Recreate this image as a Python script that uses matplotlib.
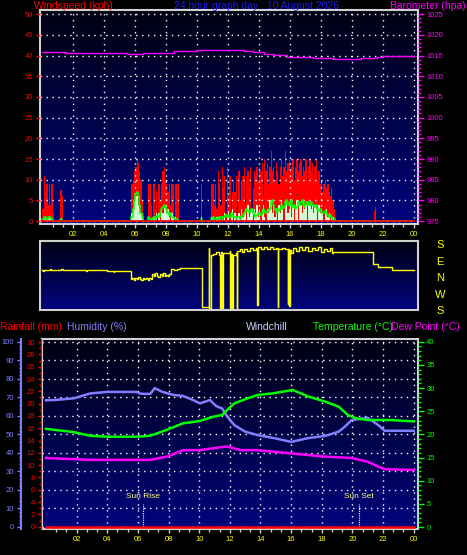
import numpy as np
import matplotlib.pyplot as plt
from matplotlib.colors import LinearSegmentedColormap

plt.rcParams['font.family'] = ['Liberation Sans', 'DejaVu Sans']

# ---- data ----
hour_ticks = [2, 4, 6, 8, 10, 12, 14, 16, 18, 20, 22, 24]
hour_labels = ["02", "04", "06", "08", "10", "12", "14", "16", "18", "20", "22", "00"]

# wind, 5 minute samples (kph)
gust = ([3, 11, 7, 9, 4, 9, 4, 9, 2] + [0] * 5 + [7.5, 6] + [0] * 53
        + [9, 10, 12, 13, 15, 14, 12, 10, 5, 2, 0] + [0] * 2
        + [9, 9, 4, 0, 9, 3, 7.5, 0, 9, 5, 9, 12, 13, 10, 9, 7, 9, 4, 9, 9, 0, 9, 9, 9]
        + [0] * 17 + [9] + [0] * 7 + [9, 9, 4]
        + [9, 3, 12, 9,
           4, 13, 8, 11, 2, 13,
           6, 11, 3, 7, 10, 7, 11, 2, 12, 5, 10, 11,
           13, 4, 11, 12, 9, 13, 3, 8, 12, 11, 13, 10,
           13, 12, 14, 6, 15, 12, 14, 9, 13, 17, 12, 13,
           10, 14, 12, 9, 13, 15, 11, 13, 17, 12, 14, 15,
           12, 13, 15, 10, 13, 15, 12, 14, 15, 11, 13, 12,
           15, 10, 13, 15, 12, 14, 11, 13, 15, 10, 12, 9,
           10, 7, 9, 10, 8, 9, 7, 6, 8, 5, 3, 1]
        + [0] * 29 + [2.5, 3.5] + [0] * 29)

speed = ([0, 1, 1, 0.5, 1, 1, 0.5, 0.5, 0] + [0] * 5 + [0.5, 0] + [0] * 53
         + [2, 3, 5, 6, 6, 4, 3, 2, 1, 0, 0] + [0] * 2
         + [1, 0, 0, 0, 1, 0, 2, 0, 2, 0, 3, 2, 4, 3, 2, 3, 1, 0, 2, 1, 0, 1, 0, 0]
         + [0] * 17 + [1] + [0] * 7 + [1, 0, 0]
         + [0, 1, 0, 1,
            0, 1, 0, 2, 0, 1,
            2, 0, 1, 3, 0, 2, 0, 1, 2, 0, 3, 1,
            2, 3, 0, 4, 1, 2, 3, 0, 3, 2, 4, 1,
            3, 0, 3, 4, 1, 0, 3, 2, 5, 5, 2, 4,
            1, 3, 0, 4, 2, 5, 3, 0, 4, 5, 2, 3,
            5, 1, 4, 0, 3, 5, 0, 4, 4, 2, 5, 3,
            4, 0, 4, 4, 3, 4, 2, 4, 3, 0, 4, 2,
            3, 2, 0, 2, 3, 1, 2, 0, 1, 1, 0, 0]
         + [0] * 29 + [0, 0] + [0] * 29)

avg = ([0.5, 1, 1, 0.5, 1, 1, 1, 0.5, 0] + [0] * 5 + [0.5, 0] + [0] * 53
       + [1, 3, 5, 6.5, 7, 6, 4, 2, 1, 0, 0] + [0] * 2
       + [1, 0.5, 0, 0.5, 1, 0.5, 1, 1.5, 1, 2, 3, 3.5, 4, 3.5, 3, 2, 1.5, 2, 1, 1, 0.5, 0.5, 0.5, 0]
       + [0] * 17 + [0.5] + [0] * 7 + [0.5, 1, 0.5]
       + [0.5, 0.5, 1, 0.5,
          1, 0.5, 1, 1, 1.5, 1,
          1.5, 1, 2, 1.5, 1, 1, 0.5, 1, 1, 0.5, 1, 1.5,
          2, 2.5, 3, 2.5, 2, 2.5, 3, 2, 1.5, 1, 1.5, 2,
          2, 1.5, 2, 3, 2.5, 2, 2.5, 2.5, 3, 4.5, 5, 4,
          3, 2, 3, 2.5, 3, 4, 3, 3.5, 4.5, 5, 4, 4.5,
          4, 5, 3.5, 4, 3, 3.5, 4.5, 4, 4.5, 5, 4, 3.5,
          4.5, 4, 4.5, 4, 4.5, 4, 4, 3.5, 4, 3, 2.5, 3,
          2.5, 2, 2, 2.5, 2, 1.5, 1, 1.5, 1, 0.5, 0.5, 0]
       + [0] * 29 + [0, 0] + [0] * 29)

# barometer (hpa)
pres_hours = [0, 1.5, 4.5, 5.5, 6.5, 8.0, 8.5, 10.0, 11.0, 12.3, 13.0, 13.6, 14.3,
              15.0, 15.8, 17.5, 18.8, 20.1, 20.6, 21.6, 22.0, 24]
pres = [1015.8, 1015.6, 1015.5, 1015.4, 1015.6, 1015.6, 1016.0, 1016.3, 1016.4,
        1016.3, 1016.0, 1015.8, 1015.3, 1015.1, 1014.7, 1014.5, 1014.1, 1014.1,
        1014.4, 1014.7, 1014.9, 1014.9]

# wind direction (deg, west negative)
dir_hours = [0.0, 0.05, 0.1, 0.5, 0.55, 1.2, 1.3, 2.8, 2.9, 4.2, 4.6, 4.65,
             5.7, 5.8, 5.9, 6.0, 6.1, 6.2, 6.3, 6.4, 6.5, 6.6, 6.7, 6.8, 6.9, 7.0,
             7.1, 7.2, 7.3, 7.4, 7.5, 7.6, 7.7, 7.8, 7.9, 8.0, 8.1, 8.2, 8.3, 8.5, 8.7, 8.9,
             10.3, 10.75, 10.8, 10.9, 11.0, 11.2, 11.4, 11.5, 11.55, 11.6, 11.65, 12.1,
             12.15, 12.2, 12.25, 12.3, 12.5, 12.55, 12.6, 12.8, 12.9, 13.0, 13.2, 13.4,
             13.6, 13.8, 13.9, 13.95, 14.1, 14.3, 14.5, 14.7, 14.9, 15.1, 15.2, 15.25,
             15.5, 15.7, 15.85, 15.9, 15.95, 16.0, 16.1, 16.2, 16.4, 16.6, 16.8, 17.0,
             17.2, 17.4, 17.6, 17.8, 18.0, 18.2, 18.4, 18.6, 18.7, 18.8, 21.4, 21.7,
             22.6, 24.0]
dir_deg = [45, 37, 45, 50, 45, 50, 45, 40, 45, 42, 35, 42,
           -5, 3, -8, 2, -6, 5, -3, -9, 0, -5, 4, -7, 2, -4,
           25, 12, 30, 15, 8, 22, 12, 28, 10, 20, 14, 26, 48, 45, 52, 54,
           -155, 163, -160, 127, 130, 145, 127, -160, 145, -165, 140, 150,
           -160, 130, -165, 127, 135, -160, 150, 160, 145, 158, 150, 163,
           155, 165, -145, 168, 160, 170, 158, 168, 160, 165, -155, 162,
           165, 158, -140, 160, -150, 155, 140, 165, 150, 168, 155, 170,
           148, 165, 152, 170, 145, 162, 150, 165, 136, 142, 76, 63,
           45, 45]
dir_names = ["S", "E", "N", "W", "S"]
dir_pos = [180, 90, 0, -90, -180]

# humidity (%), temperature and dew point (C), rainfall (mm)
hum_hours = [0, 0.5, 1.8, 2.9, 4.0, 5.9, 6.2, 6.8, 7.1, 7.6, 8.3, 8.95, 9.6, 10.05,
             10.7, 11.1, 11.5, 11.8, 12.3, 13.0, 13.8, 14.9, 16.0, 17.1, 18.2, 19.1,
             19.5, 19.95, 21.0, 21.7, 22.1, 24.0]
humidity = [68.5, 68.6, 69.5, 72.2, 73, 73, 72, 71.9, 75, 73, 71.4, 70.8, 68.6, 66.8,
            68.6, 65.4, 64, 60, 55, 51.5, 49.7, 48, 46, 48, 49.2, 51.5,
            54.2, 57.8, 59, 55, 52, 52]
temp_hours = [0, 1.8, 2.9, 4.0, 5.9, 6.8, 7.9, 8.95, 10.05, 10.9, 11.5, 11.9, 12.3,
              13.0, 13.8, 14.9, 16.1, 17.1, 18.2, 19.1, 19.7, 20.2, 21.0, 22.5, 24.0]
temperature = [21.2, 20.5, 19.7, 19.5, 19.5, 19.7, 21.0, 22.4, 22.9, 23.8, 24.2, 25.5,
               26.7, 27.6, 28.5, 28.9, 29.6, 28.2, 27.1, 26.0, 24.2, 23.5, 23.1, 23.1, 22.8]
dew_hours = [0, 2.9, 6.8, 7.9, 8.95, 10.05, 10.9, 11.8, 12.7, 13.8, 16.0, 18.2, 19.95,
             21.0, 21.7, 22.1, 24.0]
dew_point = [14.9, 14.5, 14.5, 15.2, 16.6, 16.6, 17.0, 17.4, 16.6, 16.6, 15.9, 15.2,
             14.9, 14.1, 13.0, 12.5, 12.3]
rain_hours = [0, 24]
rainfall = [0, 0]
sun_rise = 6.35
sun_set = 20.45

# ---- styling helpers ----
W, H = 467, 555
frame_col = '#d0d0d0'
grid_style = dict(color='white', linestyle=(0, (1, 3.3)), linewidth=1)
bg = LinearSegmentedColormap.from_list('bg', ['#00047c', '#000012'])
tick_fs = 5.5
head_fs = 7.5
line_w = 1.8


def px_axes(left, top, right, bottom):
    return fig.add_axes([left / W, 1 - bottom / H, (right - left) / W, (bottom - top) / H])


def gradient(ax):
    ax.imshow(np.linspace(0, 1, 256).reshape(-1, 1), cmap=bg, aspect='auto',
              extent=[0, 1, 0, 1], transform=ax.transAxes, zorder=0, origin='lower')
    ax.set_facecolor('black')
    for s in ax.spines.values():
        s.set_color(frame_col)
        s.set_linewidth(1.5)


def time_axis(ax, xmin, xmax):
    ax.set_xlim(xmin, xmax)
    ax.set_xticks(hour_ticks)
    ax.set_xticklabels(hour_labels)
    ax.set_xticks(np.arange(2 / 3, 24.01, 2 / 3), minor=True)
    ax.tick_params(axis='x', which='both', colors=frame_col, labelcolor='yellow',
                   labelsize=tick_fs, length=3, width=1, pad=2)
    ax.tick_params(axis='x', which='minor', length=2)


fig = plt.figure(figsize=(W / 100, H / 100), dpi=100, facecolor='black')

# ---- wind / barometer panel ----
axw = px_axes(40, 10, 418, 224)
gradient(axw)
wind_hours = np.arange(len(gust)) / 12
axw.bar(wind_hours, gust, width=1 / 12, align='edge', color='red', zorder=2)
axw.bar(wind_hours, speed, width=1 / 12, align='edge', color='#d4f7d4', zorder=3)
axw.step(wind_hours, avg, where='post', color='#00ff00', lw=1.1, zorder=4)
axw.plot([0, 24], [0, 0], color='red', lw=1.2, zorder=4)
axw.set_ylim(-0.7, 51)
axw.set_yticks(range(0, 51, 5))
axw.tick_params(axis='y', colors='red', labelsize=tick_fs, length=3, width=1, pad=2)
time_axis(axw, -0.155, 24.28)
axw.grid(True, **grid_style)
axw.set_axisbelow(False)
for gl in axw.get_xgridlines() + axw.get_ygridlines():
    gl.set_zorder(1.5)

axp = axw.twinx()
axp.step(pres_hours, pres, where='post', color='magenta', lw=1)
axp.set_ylim(975 - 0.7, 1026)
axp.set_yticks(range(975, 1026, 5))
axp.set_yticks(range(975, 1026, 1), minor=True)
axp.tick_params(axis='y', which='both', colors='magenta', labelsize=tick_fs,
                length=4, width=1, pad=2)
axp.tick_params(axis='y', which='minor', length=2)
for s in axp.spines.values():
    s.set_visible(False)

fig.text(34 / W, 1 - 6 / H, "Windspeed (kph)", color='red', fontsize=head_fs, va='center')
fig.text(257 / W, 1 - 6 / H, "24 hour graph day : 10 August 2026", color='#1a1aff',
         fontsize=head_fs, va='center', ha='center')
fig.text(466 / W, 1 - 6 / H, "Barometer (hpa)", color='magenta', fontsize=head_fs,
         va='center', ha='right')

# ---- direction panel ----
axd = px_axes(40, 241, 418, 309.5)
gradient(axd)
axd.step(dir_hours, dir_deg, where='post', color='yellow', lw=1, zorder=2)
axd.set_xlim(-0.155, 24.28)
axd.set_ylim(-170, 203)
axd.set_xticks([])
axd.set_yticks([])
for name, pos in zip(dir_names, dir_pos):
    axd.text(1.058, pos, name, color='yellow', fontsize=8, ha='center', va='center',
             transform=axd.get_yaxis_transform(), clip_on=False)

# ---- temperature / humidity panel ----
axb = px_axes(42, 339, 418, 529)
gradient(axb)
time_axis(axb, -0.26, 24.28)
axb.set_ylim(-1.1, 101.6)
axb.set_yticks(range(0, 101, 10))
axb.tick_params(axis='y', left=False, labelleft=False)
axb.grid(True, **grid_style)

axh = axb.twinx()
axh.yaxis.tick_left()
axh.set_ylim(-1.1, 101.6)
axh.set_yticks(range(0, 101, 10))
axh.set_yticks(range(0, 101, 2), minor=True)
for k, s in axh.spines.items():
    s.set_visible(k == 'left')
axh.spines['left'].set_position(('outward', 15))
axh.spines['left'].set_color('#8080ff')
axh.spines['left'].set_linewidth(1.5)
axh.tick_params(axis='y', which='both', colors='#8080ff', labelsize=tick_fs,
                length=3, width=1, pad=2)
axh.tick_params(axis='y', which='minor', length=1.5)
axh.plot(hum_hours, humidity, color='#8080ff', lw=line_w)
axh.plot([sun_rise, sun_rise], [0, 12.4], color='white', lw=0.8, linestyle=(0, (1, 1)))
axh.plot([sun_set, sun_set], [0, 12.4], color='white', lw=0.8, linestyle=(0, (1, 1)))
axh.text(sun_rise, 16.2, "Sun Rise", color='#ffff80', fontsize=6, ha='center', va='center')
axh.text(sun_set, 16.2, "Sun Set", color='#ffff80', fontsize=6, ha='center', va='center')

axr = axb.twinx()
axr.yaxis.tick_left()
axr.set_ylim(-0.37, 30.5)
axr.set_yticks(range(0, 31, 2))
axr.set_yticks(range(0, 31, 1), minor=True)
for k, s in axr.spines.items():
    s.set_visible(k == 'left')
axr.spines['left'].set_position(('outward', 1))
axr.spines['left'].set_color('red')
axr.spines['left'].set_linestyle((0, (1, 1)))
axr.tick_params(axis='y', which='both', colors='red', labelsize=tick_fs,
                length=2.5, width=1, pad=1.5)
axr.tick_params(axis='y', which='minor', length=1.5)
axr.plot(rain_hours, rainfall, color='red', lw=line_w)

axt = axb.twinx()
axt.set_ylim(-0.43, 40.6)
axt.set_yticks(range(0, 41, 5))
axt.set_yticks(range(0, 41, 1), minor=True)
for s in axt.spines.values():
    s.set_visible(False)
axt.tick_params(axis='y', which='both', colors='#00ff00', labelsize=tick_fs,
                length=4, width=1, pad=2)
axt.tick_params(axis='y', which='minor', length=2)
axt.plot(temp_hours, temperature, color='#00ff00', lw=line_w)
axt.plot(dew_hours, dew_point, color='magenta', lw=line_w)

hy = 1 - 327 / H
fig.text(0 / W, hy, "Rainfall (mm)", color='red', fontsize=head_fs, va='center')
fig.text(67 / W, hy, "Humidity (%)", color='#8080ff', fontsize=head_fs, va='center')
fig.text(246 / W, hy, "Windchill", color='#c8d4ff', fontsize=head_fs, va='center')
fig.text(313 / W, hy, "Temperature (°C)", color='#00ff00', fontsize=head_fs, va='center')
fig.text(391 / W, hy, "Dew Point (°C)", color='magenta', fontsize=head_fs, va='center')

fig.savefig("out.png", dpi=100, facecolor='black')
